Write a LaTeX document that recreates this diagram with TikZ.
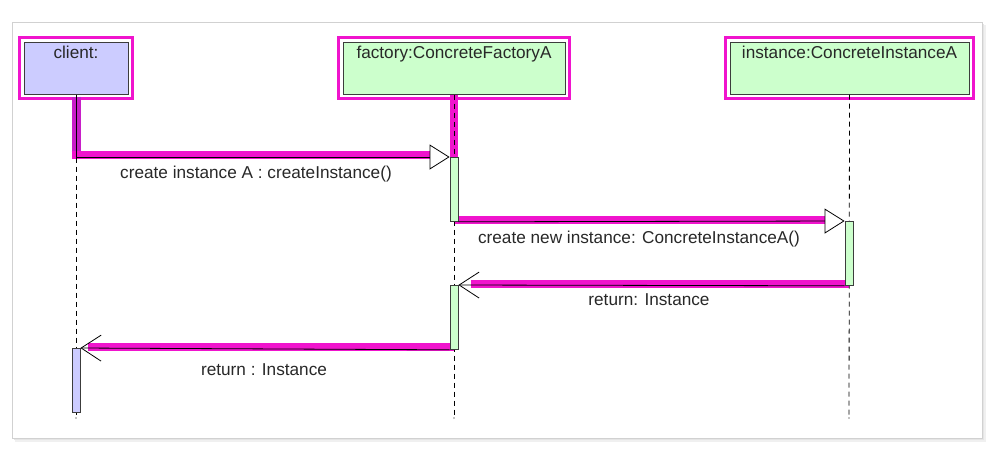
\documentclass[tikz,border=0pt]{standalone}
\usepackage{fontspec}
\setmainfont{Liberation Sans}
\usetikzlibrary{arrows.meta,calc}
\definecolor{hlmag}{RGB}{240,20,205}
\definecolor{hlpur}{RGB}{200,30,200}
\definecolor{lav}{RGB}{204,204,255}
\definecolor{mint}{RGB}{204,255,204}
\definecolor{edge}{RGB}{60,60,60}
\definecolor{txt}{RGB}{40,40,40}
\tikzset{
  obj/.style={draw=edge, line width=1pt, inner sep=0pt, text height=16pt, text depth=36pt, minimum height=52pt, text=txt},
  act/.style={draw=edge, line width=0.8pt, fill=mint, minimum width=8pt, minimum height=64pt, inner sep=0pt, anchor=north},
  life/.style={black, line width=0.8pt, dash pattern=on 5pt off 4pt},
  band/.style={hlmag, line width=8pt},
  frameband/.style={hlmag, line width=2.7pt},
  msg/.style={black, line width=0.8pt},
  synch/.style={msg, -{Triangle[open, length=20pt, width=25pt, fill=white]}},
  ret/.style={msg, -{Straight Barb[length=20pt, width=26pt]}},
  lbl/.style={anchor=base, inner sep=0pt, text=txt}
}
\begin{document}
\begin{tikzpicture}[x=1pt, y=-1pt, font=\fontsize{17.2}{20}\selectfont]
\useasboundingbox (0,0) rectangle (1000,448);
% frame with soft shadow
\fill[black!6] (15,25) rectangle (986,442);
\fill[black!10] (14,24) rectangle (984,440);
\draw[black!18, fill=white, line width=0.8pt] (12.5,22.5) rectangle (982.5,438.5);

% objects
\node[obj, fill=lav, minimum width=104pt] (cl) at (76,68) {client:};
\node[obj, fill=mint, minimum width=222pt] (fa) at (454,68) {factory:ConcreteFactoryA};
\node[obj, fill=mint, minimum width=239pt] (ins) at (849.5,68) {instance:ConcreteInstanceA};
\foreach \n in {cl,fa,ins}{
  \draw[frameband] ([shift={(-3.7,-3.7)}]\n.north west) rectangle ([shift={(3.7,3.7)}]\n.south east);
}

% lifeline ends
\coordinate (clend) at (76,418);
\coordinate (faend) at (454,418);
\coordinate (insend) at (849,418);

% activation positions
\coordinate (fa1top) at (454,157);
\coordinate (iatop) at (849,221);
\coordinate (fa2top) at (454,285);
\coordinate (catop) at (76,348);

% highlight bands
\draw[hlpur, line width=9pt] ([yshift=-2pt]cl.south) -- (cl.south |- fa1top);
\draw[band, shorten >=22pt] ([xshift=-4.5pt,yshift=2pt]cl.south |- fa1top) -- ([yshift=2pt]fa1top);
\draw[hlmag, line width=8pt] (fa.south) -- (fa1top);
\draw[band, shorten >=19pt] ([yshift=1pt]fa1top |- iatop) -- ([yshift=1pt]iatop);
\draw[band, shorten >=17pt] ([yshift=1.5pt]iatop |- fa2top) -- ([yshift=1.5pt]fa2top);
\draw[band, shorten >=12pt] ([yshift=1pt]fa2top |- catop) -- ([yshift=1pt]catop);

% lifelines
\draw[life] (cl.south) -- (clend);
\draw[life] (fa.south) -- (faend);
\draw[life] (ins.south) -- (insend);
\fill (clend) circle (0.6pt);
\fill (faend) circle (0.6pt);
\fill (insend) circle (0.6pt);

% activations
\node[act] (fa1) at (fa1top) {};
\node[act] (ia) at (iatop) {};
\node[act] (fa2) at (fa2top) {};
\node[act, fill=lav] (ca) at (catop) {};

% messages
\draw[synch] (cl.south) |- (fa1.north west);
\draw[synch] (fa1.south east) -- (ia.north west);
\draw[ret] (ia.south west) -- (fa2.north east);
\draw[ret] (fa2.south west) -- (ca.north east);

% labels
\node[lbl] (l1) at (256,178) {create instance A : createInstance()};
\node[lbl] (l2) at (639,243) {create new instance: ConcreteInstanceA()};
\node[lbl] (l3) at (649,305) {return: Instance};
\node[lbl] (l4) at (264,375) {return : Instance};
\end{tikzpicture}
\end{document}
